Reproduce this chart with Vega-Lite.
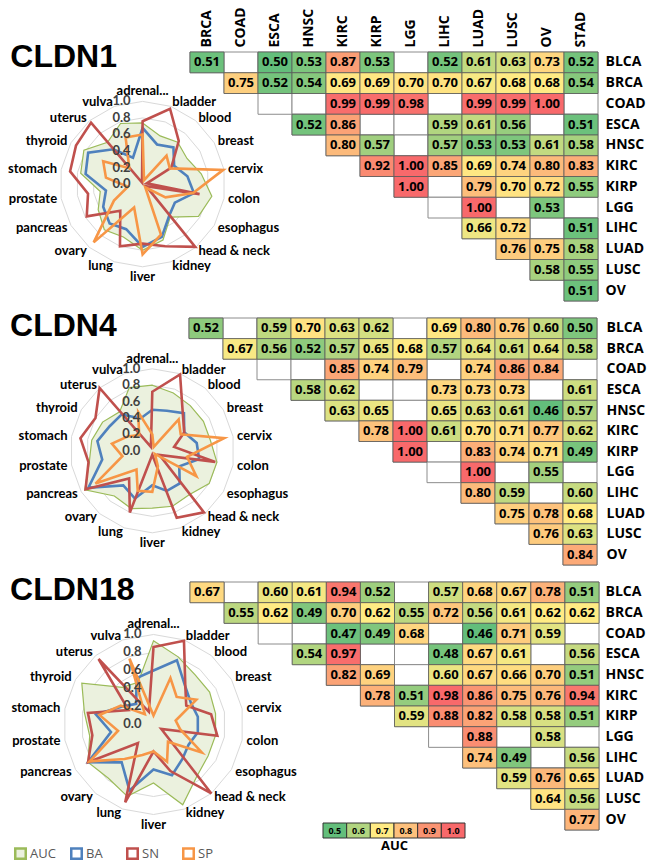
{
"$schema": "https://vega.github.io/schema/vega-lite/v6.json",
"padding": {"top": 6, "left": 0, "right": 0, "bottom": 0},
"spacing": 17,
"bounds": "flush",
"config": {"view": {"stroke": null}, "axis": {"grid": false}},
"datasets": {
"rings": [
{"ring": 0.2, "t": ["adrenal...","bladder","blood","breast","cervix","colon","esophagus","head & neck","kidney","liver","lung","ovary","pancreas","prostate","stomach","thyroid","uterus","vulva"]},
{"ring": 0.4, "t": ["adrenal...","bladder","blood","breast","cervix","colon","esophagus","head & neck","kidney","liver","lung","ovary","pancreas","prostate","stomach","thyroid","uterus","vulva"]},
{"ring": 0.6, "t": ["adrenal...","bladder","blood","breast","cervix","colon","esophagus","head & neck","kidney","liver","lung","ovary","pancreas","prostate","stomach","thyroid","uterus","vulva"]},
{"ring": 0.8, "t": ["adrenal...","bladder","blood","breast","cervix","colon","esophagus","head & neck","kidney","liver","lung","ovary","pancreas","prostate","stomach","thyroid","uterus","vulva"]},
{"ring": 1.0, "t": ["adrenal...","bladder","blood","breast","cervix","colon","esophagus","head & neck","kidney","liver","lung","ovary","pancreas","prostate","stomach","thyroid","uterus","vulva"]}
],
"genes": [{"gene": "CLDN1"}, {"gene": "CLDN4"}, {"gene": "CLDN18"}],
"radar": [
{"g":"CLDN1","t":"adrenal...","AUC":0.74,"BA":0.68,"SN":0.76,"SP":0.60},
{"g":"CLDN1","t":"bladder","AUC":0.62,"BA":0.51,"SN":0.97,"SP":0.05},
{"g":"CLDN1","t":"blood","AUC":0.66,"BA":0.58,"SN":0.68,"SP":0.45},
{"g":"CLDN1","t":"breast","AUC":0.62,"BA":0.44,"SN":0.40,"SP":0.38},
{"g":"CLDN1","t":"cervix","AUC":0.72,"BA":0.55,"SN":0.05,"SP":0.99},
{"g":"CLDN1","t":"colon","AUC":0.85,"BA":0.63,"SN":0.70,"SP":0.62},
{"g":"CLDN1","t":"esophagus","AUC":0.78,"BA":0.45,"SN":0.05,"SP":0.32},
{"g":"CLDN1","t":"head & neck","AUC":0.52,"BA":0.50,"SN":0.99,"SP":0.05},
{"g":"CLDN1","t":"kidney","AUC":0.72,"BA":0.68,"SN":0.80,"SP":0.65},
{"g":"CLDN1","t":"liver","AUC":0.80,"BA":0.76,"SN":0.72,"SP":0.85},
{"g":"CLDN1","t":"lung","AUC":0.68,"BA":0.58,"SN":0.80,"SP":0.30},
{"g":"CLDN1","t":"ovary","AUC":0.72,"BA":0.62,"SN":0.42,"SP":0.92},
{"g":"CLDN1","t":"pancreas","AUC":0.62,"BA":0.55,"SN":0.78,"SP":0.40},
{"g":"CLDN1","t":"prostate","AUC":0.52,"BA":0.45,"SN":0.67,"SP":0.18},
{"g":"CLDN1","t":"stomach","AUC":0.76,"BA":0.70,"SN":0.89,"SP":0.45},
{"g":"CLDN1","t":"thyroid","AUC":0.82,"BA":0.76,"SN":0.93,"SP":0.55},
{"g":"CLDN1","t":"uterus","AUC":0.66,"BA":0.55,"SN":0.97,"SP":0.25},
{"g":"CLDN1","t":"vulva","AUC":0.78,"BA":0.34,"SN":0.02,"SP":0.60},
{"g":"CLDN4","t":"adrenal...","AUC":0.80,"BA":0.50,"SN":0.72,"SP":0.20},
{"g":"CLDN4","t":"bladder","AUC":0.75,"BA":0.52,"SN":0.99,"SP":0.05},
{"g":"CLDN4","t":"blood","AUC":0.72,"BA":0.60,"SN":0.58,"SP":0.50},
{"g":"CLDN4","t":"breast","AUC":0.72,"BA":0.45,"SN":0.45,"SP":0.40},
{"g":"CLDN4","t":"cervix","AUC":0.72,"BA":0.55,"SN":0.27,"SP":0.89},
{"g":"CLDN4","t":"colon","AUC":0.80,"BA":0.58,"SN":0.78,"SP":0.43},
{"g":"CLDN4","t":"esophagus","AUC":0.80,"BA":0.38,"SN":0.10,"SP":0.62},
{"g":"CLDN4","t":"head & neck","AUC":0.70,"BA":0.52,"SN":0.98,"SP":0.05},
{"g":"CLDN4","t":"kidney","AUC":0.72,"BA":0.52,"SN":0.87,"SP":0.20},
{"g":"CLDN4","t":"liver","AUC":0.70,"BA":0.42,"SN":0.05,"SP":0.50},
{"g":"CLDN4","t":"lung","AUC":0.75,"BA":0.62,"SN":0.80,"SP":0.52},
{"g":"CLDN4","t":"ovary","AUC":0.72,"BA":0.55,"SN":0.44,"SP":0.30},
{"g":"CLDN4","t":"pancreas","AUC":0.95,"BA":0.90,"SN":0.94,"SP":0.80},
{"g":"CLDN4","t":"prostate","AUC":0.78,"BA":0.62,"SN":0.79,"SP":0.37},
{"g":"CLDN4","t":"stomach","AUC":0.75,"BA":0.68,"SN":0.89,"SP":0.50},
{"g":"CLDN4","t":"thyroid","AUC":0.70,"BA":0.60,"SN":0.80,"SP":0.35},
{"g":"CLDN4","t":"uterus","AUC":0.62,"BA":0.58,"SN":1.00,"SP":0.25},
{"g":"CLDN4","t":"vulva","AUC":0.82,"BA":0.42,"SN":0.05,"SP":0.50},
{"g":"CLDN18","t":"adrenal...","AUC":0.93,"BA":0.60,"SN":0.86,"SP":0.10},
{"g":"CLDN18","t":"bladder","AUC":0.80,"BA":0.76,"SN":0.99,"SP":0.55},
{"g":"CLDN18","t":"blood","AUC":0.72,"BA":0.55,"SN":0.55,"SP":0.40},
{"g":"CLDN18","t":"breast","AUC":0.72,"BA":0.48,"SN":0.42,"SP":0.55},
{"g":"CLDN18","t":"cervix","AUC":0.70,"BA":0.50,"SN":0.65,"SP":0.25},
{"g":"CLDN18","t":"colon","AUC":0.70,"BA":0.50,"SN":0.72,"SP":0.30},
{"g":"CLDN18","t":"esophagus","AUC":0.70,"BA":0.45,"SN":0.10,"SP":0.62},
{"g":"CLDN18","t":"head & neck","AUC":0.75,"BA":0.50,"SN":1.00,"SP":0.25},
{"g":"CLDN18","t":"kidney","AUC":0.95,"BA":0.60,"SN":0.55,"SP":0.44},
{"g":"CLDN18","t":"liver","AUC":0.65,"BA":0.50,"SN":0.30,"SP":0.30},
{"g":"CLDN18","t":"lung","AUC":0.85,"BA":0.78,"SN":0.92,"SP":0.36},
{"g":"CLDN18","t":"ovary","AUC":0.78,"BA":0.55,"SN":0.27,"SP":0.50},
{"g":"CLDN18","t":"pancreas","AUC":0.84,"BA":0.84,"SN":0.84,"SP":0.82},
{"g":"CLDN18","t":"prostate","AUC":0.72,"BA":0.48,"SN":0.69,"SP":0.40},
{"g":"CLDN18","t":"stomach","AUC":0.78,"BA":0.65,"SN":0.74,"SP":0.61},
{"g":"CLDN18","t":"thyroid","AUC":0.92,"BA":0.40,"SN":0.32,"SP":0.42},
{"g":"CLDN18","t":"uterus","AUC":0.54,"BA":0.30,"SN":0.95,"SP":0.15},
{"g":"CLDN18","t":"vulva","AUC":0.50,"BA":0.55,"SN":0.15,"SP":0.78}
],
"heat": [
{"g":"CLDN1","r":"BLCA","c":"BRCA","v":0.51},{"g":"CLDN1","r":"BLCA","c":"COAD","v":null},{"g":"CLDN1","r":"BLCA","c":"ESCA","v":0.50},{"g":"CLDN1","r":"BLCA","c":"HNSC","v":0.53},{"g":"CLDN1","r":"BLCA","c":"KIRC","v":0.87},{"g":"CLDN1","r":"BLCA","c":"KIRP","v":0.53},{"g":"CLDN1","r":"BLCA","c":"LGG","v":null},{"g":"CLDN1","r":"BLCA","c":"LIHC","v":0.52},{"g":"CLDN1","r":"BLCA","c":"LUAD","v":0.61},{"g":"CLDN1","r":"BLCA","c":"LUSC","v":0.63},{"g":"CLDN1","r":"BLCA","c":"OV","v":0.73},{"g":"CLDN1","r":"BLCA","c":"STAD","v":0.52},
{"g":"CLDN1","r":"BRCA","c":"COAD","v":0.75},{"g":"CLDN1","r":"BRCA","c":"ESCA","v":0.52},{"g":"CLDN1","r":"BRCA","c":"HNSC","v":0.54},{"g":"CLDN1","r":"BRCA","c":"KIRC","v":0.69},{"g":"CLDN1","r":"BRCA","c":"KIRP","v":0.69},{"g":"CLDN1","r":"BRCA","c":"LGG","v":0.70},{"g":"CLDN1","r":"BRCA","c":"LIHC","v":0.70},{"g":"CLDN1","r":"BRCA","c":"LUAD","v":0.67},{"g":"CLDN1","r":"BRCA","c":"LUSC","v":0.68},{"g":"CLDN1","r":"BRCA","c":"OV","v":0.68},{"g":"CLDN1","r":"BRCA","c":"STAD","v":0.54},
{"g":"CLDN1","r":"COAD","c":"ESCA","v":null},{"g":"CLDN1","r":"COAD","c":"HNSC","v":null},{"g":"CLDN1","r":"COAD","c":"KIRC","v":0.99},{"g":"CLDN1","r":"COAD","c":"KIRP","v":0.99},{"g":"CLDN1","r":"COAD","c":"LGG","v":0.98},{"g":"CLDN1","r":"COAD","c":"LIHC","v":null},{"g":"CLDN1","r":"COAD","c":"LUAD","v":0.99},{"g":"CLDN1","r":"COAD","c":"LUSC","v":0.99},{"g":"CLDN1","r":"COAD","c":"OV","v":1.00},{"g":"CLDN1","r":"COAD","c":"STAD","v":null},
{"g":"CLDN1","r":"ESCA","c":"HNSC","v":0.52},{"g":"CLDN1","r":"ESCA","c":"KIRC","v":0.86},{"g":"CLDN1","r":"ESCA","c":"KIRP","v":null},{"g":"CLDN1","r":"ESCA","c":"LGG","v":null},{"g":"CLDN1","r":"ESCA","c":"LIHC","v":0.59},{"g":"CLDN1","r":"ESCA","c":"LUAD","v":0.61},{"g":"CLDN1","r":"ESCA","c":"LUSC","v":0.56},{"g":"CLDN1","r":"ESCA","c":"OV","v":null},{"g":"CLDN1","r":"ESCA","c":"STAD","v":0.51},
{"g":"CLDN1","r":"HNSC","c":"KIRC","v":0.80},{"g":"CLDN1","r":"HNSC","c":"KIRP","v":0.57},{"g":"CLDN1","r":"HNSC","c":"LGG","v":null},{"g":"CLDN1","r":"HNSC","c":"LIHC","v":0.57},{"g":"CLDN1","r":"HNSC","c":"LUAD","v":0.53},{"g":"CLDN1","r":"HNSC","c":"LUSC","v":0.53},{"g":"CLDN1","r":"HNSC","c":"OV","v":0.61},{"g":"CLDN1","r":"HNSC","c":"STAD","v":0.58},
{"g":"CLDN1","r":"KIRC","c":"KIRP","v":0.92},{"g":"CLDN1","r":"KIRC","c":"LGG","v":1.00},{"g":"CLDN1","r":"KIRC","c":"LIHC","v":0.85},{"g":"CLDN1","r":"KIRC","c":"LUAD","v":0.69},{"g":"CLDN1","r":"KIRC","c":"LUSC","v":0.74},{"g":"CLDN1","r":"KIRC","c":"OV","v":0.80},{"g":"CLDN1","r":"KIRC","c":"STAD","v":0.83},
{"g":"CLDN1","r":"KIRP","c":"LGG","v":1.00},{"g":"CLDN1","r":"KIRP","c":"LIHC","v":null},{"g":"CLDN1","r":"KIRP","c":"LUAD","v":0.79},{"g":"CLDN1","r":"KIRP","c":"LUSC","v":0.70},{"g":"CLDN1","r":"KIRP","c":"OV","v":0.72},{"g":"CLDN1","r":"KIRP","c":"STAD","v":0.55},
{"g":"CLDN1","r":"LGG","c":"LIHC","v":null},{"g":"CLDN1","r":"LGG","c":"LUAD","v":1.00},{"g":"CLDN1","r":"LGG","c":"LUSC","v":null},{"g":"CLDN1","r":"LGG","c":"OV","v":0.53},{"g":"CLDN1","r":"LGG","c":"STAD","v":null},
{"g":"CLDN1","r":"LIHC","c":"LUAD","v":0.66},{"g":"CLDN1","r":"LIHC","c":"LUSC","v":0.72},{"g":"CLDN1","r":"LIHC","c":"OV","v":null},{"g":"CLDN1","r":"LIHC","c":"STAD","v":0.51},
{"g":"CLDN1","r":"LUAD","c":"LUSC","v":0.76},{"g":"CLDN1","r":"LUAD","c":"OV","v":0.75},{"g":"CLDN1","r":"LUAD","c":"STAD","v":0.58},
{"g":"CLDN1","r":"LUSC","c":"OV","v":0.58},{"g":"CLDN1","r":"LUSC","c":"STAD","v":0.55},
{"g":"CLDN1","r":"OV","c":"STAD","v":0.51},
{"g":"CLDN4","r":"BLCA","c":"BRCA","v":0.52},{"g":"CLDN4","r":"BLCA","c":"COAD","v":null},{"g":"CLDN4","r":"BLCA","c":"ESCA","v":0.59},{"g":"CLDN4","r":"BLCA","c":"HNSC","v":0.70},{"g":"CLDN4","r":"BLCA","c":"KIRC","v":0.63},{"g":"CLDN4","r":"BLCA","c":"KIRP","v":0.62},{"g":"CLDN4","r":"BLCA","c":"LGG","v":null},{"g":"CLDN4","r":"BLCA","c":"LIHC","v":0.69},{"g":"CLDN4","r":"BLCA","c":"LUAD","v":0.80},{"g":"CLDN4","r":"BLCA","c":"LUSC","v":0.76},{"g":"CLDN4","r":"BLCA","c":"OV","v":0.60},{"g":"CLDN4","r":"BLCA","c":"STAD","v":0.50},
{"g":"CLDN4","r":"BRCA","c":"COAD","v":0.67},{"g":"CLDN4","r":"BRCA","c":"ESCA","v":0.56},{"g":"CLDN4","r":"BRCA","c":"HNSC","v":0.52},{"g":"CLDN4","r":"BRCA","c":"KIRC","v":0.57},{"g":"CLDN4","r":"BRCA","c":"KIRP","v":0.65},{"g":"CLDN4","r":"BRCA","c":"LGG","v":0.68},{"g":"CLDN4","r":"BRCA","c":"LIHC","v":0.57},{"g":"CLDN4","r":"BRCA","c":"LUAD","v":0.64},{"g":"CLDN4","r":"BRCA","c":"LUSC","v":0.61},{"g":"CLDN4","r":"BRCA","c":"OV","v":0.64},{"g":"CLDN4","r":"BRCA","c":"STAD","v":0.58},
{"g":"CLDN4","r":"COAD","c":"ESCA","v":null},{"g":"CLDN4","r":"COAD","c":"HNSC","v":null},{"g":"CLDN4","r":"COAD","c":"KIRC","v":0.85},{"g":"CLDN4","r":"COAD","c":"KIRP","v":0.74},{"g":"CLDN4","r":"COAD","c":"LGG","v":0.79},{"g":"CLDN4","r":"COAD","c":"LIHC","v":null},{"g":"CLDN4","r":"COAD","c":"LUAD","v":0.74},{"g":"CLDN4","r":"COAD","c":"LUSC","v":0.86},{"g":"CLDN4","r":"COAD","c":"OV","v":0.84},{"g":"CLDN4","r":"COAD","c":"STAD","v":null},
{"g":"CLDN4","r":"ESCA","c":"HNSC","v":0.58},{"g":"CLDN4","r":"ESCA","c":"KIRC","v":0.62},{"g":"CLDN4","r":"ESCA","c":"KIRP","v":null},{"g":"CLDN4","r":"ESCA","c":"LGG","v":null},{"g":"CLDN4","r":"ESCA","c":"LIHC","v":0.73},{"g":"CLDN4","r":"ESCA","c":"LUAD","v":0.73},{"g":"CLDN4","r":"ESCA","c":"LUSC","v":0.73},{"g":"CLDN4","r":"ESCA","c":"OV","v":null},{"g":"CLDN4","r":"ESCA","c":"STAD","v":0.61},
{"g":"CLDN4","r":"HNSC","c":"KIRC","v":0.63},{"g":"CLDN4","r":"HNSC","c":"KIRP","v":0.65},{"g":"CLDN4","r":"HNSC","c":"LGG","v":null},{"g":"CLDN4","r":"HNSC","c":"LIHC","v":0.65},{"g":"CLDN4","r":"HNSC","c":"LUAD","v":0.63},{"g":"CLDN4","r":"HNSC","c":"LUSC","v":0.61},{"g":"CLDN4","r":"HNSC","c":"OV","v":0.46},{"g":"CLDN4","r":"HNSC","c":"STAD","v":0.57},
{"g":"CLDN4","r":"KIRC","c":"KIRP","v":0.78},{"g":"CLDN4","r":"KIRC","c":"LGG","v":1.00},{"g":"CLDN4","r":"KIRC","c":"LIHC","v":0.61},{"g":"CLDN4","r":"KIRC","c":"LUAD","v":0.70},{"g":"CLDN4","r":"KIRC","c":"LUSC","v":0.71},{"g":"CLDN4","r":"KIRC","c":"OV","v":0.77},{"g":"CLDN4","r":"KIRC","c":"STAD","v":0.62},
{"g":"CLDN4","r":"KIRP","c":"LGG","v":1.00},{"g":"CLDN4","r":"KIRP","c":"LIHC","v":null},{"g":"CLDN4","r":"KIRP","c":"LUAD","v":0.83},{"g":"CLDN4","r":"KIRP","c":"LUSC","v":0.74},{"g":"CLDN4","r":"KIRP","c":"OV","v":0.71},{"g":"CLDN4","r":"KIRP","c":"STAD","v":0.49},
{"g":"CLDN4","r":"LGG","c":"LIHC","v":null},{"g":"CLDN4","r":"LGG","c":"LUAD","v":1.00},{"g":"CLDN4","r":"LGG","c":"LUSC","v":null},{"g":"CLDN4","r":"LGG","c":"OV","v":0.55},{"g":"CLDN4","r":"LGG","c":"STAD","v":null},
{"g":"CLDN4","r":"LIHC","c":"LUAD","v":0.80},{"g":"CLDN4","r":"LIHC","c":"LUSC","v":0.59},{"g":"CLDN4","r":"LIHC","c":"OV","v":null},{"g":"CLDN4","r":"LIHC","c":"STAD","v":0.60},
{"g":"CLDN4","r":"LUAD","c":"LUSC","v":0.75},{"g":"CLDN4","r":"LUAD","c":"OV","v":0.78},{"g":"CLDN4","r":"LUAD","c":"STAD","v":0.68},
{"g":"CLDN4","r":"LUSC","c":"OV","v":0.76},{"g":"CLDN4","r":"LUSC","c":"STAD","v":0.63},
{"g":"CLDN4","r":"OV","c":"STAD","v":0.84},
{"g":"CLDN18","r":"BLCA","c":"BRCA","v":0.67},{"g":"CLDN18","r":"BLCA","c":"COAD","v":null},{"g":"CLDN18","r":"BLCA","c":"ESCA","v":0.60},{"g":"CLDN18","r":"BLCA","c":"HNSC","v":0.61},{"g":"CLDN18","r":"BLCA","c":"KIRC","v":0.94},{"g":"CLDN18","r":"BLCA","c":"KIRP","v":0.52},{"g":"CLDN18","r":"BLCA","c":"LGG","v":null},{"g":"CLDN18","r":"BLCA","c":"LIHC","v":0.57},{"g":"CLDN18","r":"BLCA","c":"LUAD","v":0.68},{"g":"CLDN18","r":"BLCA","c":"LUSC","v":0.67},{"g":"CLDN18","r":"BLCA","c":"OV","v":0.78},{"g":"CLDN18","r":"BLCA","c":"STAD","v":0.51},
{"g":"CLDN18","r":"BRCA","c":"COAD","v":0.55},{"g":"CLDN18","r":"BRCA","c":"ESCA","v":0.62},{"g":"CLDN18","r":"BRCA","c":"HNSC","v":0.49},{"g":"CLDN18","r":"BRCA","c":"KIRC","v":0.70},{"g":"CLDN18","r":"BRCA","c":"KIRP","v":0.62},{"g":"CLDN18","r":"BRCA","c":"LGG","v":0.55},{"g":"CLDN18","r":"BRCA","c":"LIHC","v":0.72},{"g":"CLDN18","r":"BRCA","c":"LUAD","v":0.56},{"g":"CLDN18","r":"BRCA","c":"LUSC","v":0.61},{"g":"CLDN18","r":"BRCA","c":"OV","v":0.62},{"g":"CLDN18","r":"BRCA","c":"STAD","v":0.62},
{"g":"CLDN18","r":"COAD","c":"ESCA","v":null},{"g":"CLDN18","r":"COAD","c":"HNSC","v":null},{"g":"CLDN18","r":"COAD","c":"KIRC","v":0.47},{"g":"CLDN18","r":"COAD","c":"KIRP","v":0.49},{"g":"CLDN18","r":"COAD","c":"LGG","v":0.68},{"g":"CLDN18","r":"COAD","c":"LIHC","v":null},{"g":"CLDN18","r":"COAD","c":"LUAD","v":0.46},{"g":"CLDN18","r":"COAD","c":"LUSC","v":0.71},{"g":"CLDN18","r":"COAD","c":"OV","v":0.59},{"g":"CLDN18","r":"COAD","c":"STAD","v":null},
{"g":"CLDN18","r":"ESCA","c":"HNSC","v":0.54},{"g":"CLDN18","r":"ESCA","c":"KIRC","v":0.97},{"g":"CLDN18","r":"ESCA","c":"KIRP","v":null},{"g":"CLDN18","r":"ESCA","c":"LGG","v":null},{"g":"CLDN18","r":"ESCA","c":"LIHC","v":0.48},{"g":"CLDN18","r":"ESCA","c":"LUAD","v":0.67},{"g":"CLDN18","r":"ESCA","c":"LUSC","v":0.61},{"g":"CLDN18","r":"ESCA","c":"OV","v":null},{"g":"CLDN18","r":"ESCA","c":"STAD","v":0.56},
{"g":"CLDN18","r":"HNSC","c":"KIRC","v":0.82},{"g":"CLDN18","r":"HNSC","c":"KIRP","v":0.69},{"g":"CLDN18","r":"HNSC","c":"LGG","v":null},{"g":"CLDN18","r":"HNSC","c":"LIHC","v":0.60},{"g":"CLDN18","r":"HNSC","c":"LUAD","v":0.67},{"g":"CLDN18","r":"HNSC","c":"LUSC","v":0.66},{"g":"CLDN18","r":"HNSC","c":"OV","v":0.70},{"g":"CLDN18","r":"HNSC","c":"STAD","v":0.51},
{"g":"CLDN18","r":"KIRC","c":"KIRP","v":0.78},{"g":"CLDN18","r":"KIRC","c":"LGG","v":0.51},{"g":"CLDN18","r":"KIRC","c":"LIHC","v":0.98},{"g":"CLDN18","r":"KIRC","c":"LUAD","v":0.86},{"g":"CLDN18","r":"KIRC","c":"LUSC","v":0.75},{"g":"CLDN18","r":"KIRC","c":"OV","v":0.76},{"g":"CLDN18","r":"KIRC","c":"STAD","v":0.94},
{"g":"CLDN18","r":"KIRP","c":"LGG","v":0.59},{"g":"CLDN18","r":"KIRP","c":"LIHC","v":0.88},{"g":"CLDN18","r":"KIRP","c":"LUAD","v":0.82},{"g":"CLDN18","r":"KIRP","c":"LUSC","v":0.58},{"g":"CLDN18","r":"KIRP","c":"OV","v":0.58},{"g":"CLDN18","r":"KIRP","c":"STAD","v":0.51},
{"g":"CLDN18","r":"LGG","c":"LIHC","v":null},{"g":"CLDN18","r":"LGG","c":"LUAD","v":0.88},{"g":"CLDN18","r":"LGG","c":"LUSC","v":null},{"g":"CLDN18","r":"LGG","c":"OV","v":0.58},{"g":"CLDN18","r":"LGG","c":"STAD","v":null},
{"g":"CLDN18","r":"LIHC","c":"LUAD","v":0.74},{"g":"CLDN18","r":"LIHC","c":"LUSC","v":0.49},{"g":"CLDN18","r":"LIHC","c":"OV","v":null},{"g":"CLDN18","r":"LIHC","c":"STAD","v":0.56},
{"g":"CLDN18","r":"LUAD","c":"LUSC","v":0.59},{"g":"CLDN18","r":"LUAD","c":"OV","v":0.76},{"g":"CLDN18","r":"LUAD","c":"STAD","v":0.65},
{"g":"CLDN18","r":"LUSC","c":"OV","v":0.64},{"g":"CLDN18","r":"LUSC","c":"STAD","v":0.56},
{"g":"CLDN18","r":"OV","c":"STAD","v":0.77}
]
},
"vconcat": [
{
"width": 600, "height": 249,
"resolve": {"scale": {"x": "independent", "y": "independent", "fill": "independent", "stroke": "independent"}},
"layer": [
{"layer": [
{"data": {"name": "rings"},
 "transform": [{"flatten": ["t"]}, {"window": [{"op": "row_number", "as": "idx"}], "groupby": ["ring"]}, {"calculate": "datum.ring*sin((datum.idx-1)*PI/9)", "as": "rx"}, {"calculate": "datum.ring*cos((datum.idx-1)*PI/9)", "as": "ry"}],
 "mark": {"type": "line", "interpolate": "linear-closed", "stroke": "#d9d9d9", "strokeWidth": 1},
 "encoding": {"x": {"field": "rx", "type": "quantitative", "scale": {"domain": [-1.7243, 5.5308], "nice": false, "zero": false}, "axis": null}, "y": {"field": "ry", "type": "quantitative", "scale": {"domain": [-1.4136, 1.5973], "nice": false, "zero": false}, "axis": null}, "detail": {"field": "ring"}, "order": {"field": "idx"}}},
{"data": {"name": "radar"},
 "transform": [{"filter": "datum.g === 'CLDN1'"}, {"fold": ["AUC", "BA", "SN", "SP"], "as": ["m", "val"]}, {"window": [{"op": "row_number", "as": "idx"}], "groupby": ["m"]}, {"calculate": "datum.val*sin((datum.idx-1)*PI/9)", "as": "rx"}, {"calculate": "datum.val*cos((datum.idx-1)*PI/9)", "as": "ry"}],
 "mark": {"type": "line", "interpolate": "linear-closed", "strokeJoin": "miter"},
 "encoding": {"x": {"field": "rx", "type": "quantitative", "scale": {"domain": [-1.7243, 5.5308], "nice": false, "zero": false}, "axis": null}, "y": {"field": "ry", "type": "quantitative", "scale": {"domain": [-1.4136, 1.5973], "nice": false, "zero": false}, "axis": null},
  "stroke": {"field": "m", "type": "nominal", "scale": {"domain": ["AUC", "BA", "SN", "SP"], "range": ["#9BBB59", "#4F81BD", "#C0504D", "#F79646"]}, "legend": null},
  "fill": {"field": "m", "type": "nominal", "scale": {"domain": ["AUC", "BA", "SN", "SP"], "range": ["#EBF1DE", "transparent", "transparent", "transparent"]}, "legend": null},
  "strokeWidth": {"condition": {"test": "datum.m === 'AUC'", "value": 1.2}, "value": 2.6},
  "order": {"field": "idx"}}},
{"data": {"values": [{"tk": 0}, {"tk": 0.2}, {"tk": 0.4}, {"tk": 0.6}, {"tk": 0.8}, {"tk": 1.0}]},
 "mark": {"type": "text", "align": "right", "baseline": "middle", "dx": -12, "font": "Lato", "fontWeight": "bold", "fontSize": 13, "color": "#404040"},
 "encoding": {"x": {"datum": 0, "type": "quantitative", "scale": {"domain": [-1.7243, 5.5308], "nice": false, "zero": false}, "axis": null}, "y": {"field": "tk", "type": "quantitative", "scale": {"domain": [-1.4136, 1.5973], "nice": false, "zero": false}, "axis": null}, "text": {"field": "tk", "format": ".1f"}}},
{"data": {"name": "genes"},
 "transform": [{"filter": "datum.gene === 'CLDN1'"}],
 "mark": {"type": "text", "align": "left", "baseline": "alphabetic", "font": "Liberation Sans", "fontWeight": "bold", "fontSize": 32, "color": "black"},
 "encoding": {"x": {"datum": -1.60, "type": "quantitative", "scale": {"domain": [-1.7243, 5.5308], "nice": false, "zero": false}, "axis": null}, "y": {"datum": 1.416, "type": "quantitative", "scale": {"domain": [-1.4136, 1.5973], "nice": false, "zero": false}, "axis": null}, "text": {"field": "gene"}}},
{"data": {"name": "radar"},
 "transform": [{"filter": "datum.g === 'CLDN1'"}, {"window": [{"op": "row_number", "as": "idx"}]}, {"calculate": "(datum.idx-1)*PI/9", "as": "a"}, {"calculate": "(datum.idx==1||datum.idx==10) ? 0 : 1.05*sin(datum.a)", "as": "lx"}, {"calculate": "(datum.idx==1||datum.idx==10) ? 1.12*cos(datum.a) : 1.05*cos(datum.a)", "as": "ly"}],
 "layer": [
  {"transform": [{"filter": "datum.idx>=2 && datum.idx<=9"}], "mark": {"type": "text", "align": "left", "baseline": "middle", "font": "Lato", "fontWeight": "bold", "fontSize": 13, "color": "black"}},
  {"transform": [{"filter": "datum.idx>=11"}], "mark": {"type": "text", "align": "right", "baseline": "middle", "font": "Lato", "fontWeight": "bold", "fontSize": 13, "color": "black"}},
  {"transform": [{"filter": "datum.idx==1 || datum.idx==10"}], "mark": {"type": "text", "align": "center", "baseline": "middle", "font": "Lato", "fontWeight": "bold", "fontSize": 13, "color": "black"}}
 ],
 "encoding": {"x": {"field": "lx", "type": "quantitative", "scale": {"domain": [-1.7243, 5.5308], "nice": false, "zero": false}, "axis": null}, "y": {"field": "ly", "type": "quantitative", "scale": {"domain": [-1.4136, 1.5973], "nice": false, "zero": false}, "axis": null}, "text": {"field": "t"}}}
]},
{"data": {"name": "heat"},
 "transform": [{"filter": "datum.g === 'CLDN1'"}],
 "encoding": {
  "x": {"field": "c", "type": "nominal", "scale": {"domain": ["BRCA","COAD","ESCA","HNSC","KIRC","KIRP","LGG","LIHC","LUAD","LUSC","OV","STAD"], "range": [190, 598], "paddingInner": 0, "paddingOuter": 0}, "axis": {"orient": "top", "title": null, "labelAngle": -90, "labelAlign": "left", "labelBaseline": "middle", "labelFont": "Open Sans", "labelFontWeight": "bold", "labelFontSize": 14, "labelColor": "black", "ticks": false, "domain": false, "labelPadding": 5}},
  "y": {"field": "r", "type": "nominal", "scale": {"domain": ["BLCA","BRCA","COAD","ESCA","HNSC","KIRC","KIRP","LGG","LIHC","LUAD","LUSC","OV"], "paddingInner": 0, "paddingOuter": 0}, "axis": {"orient": "right", "title": null, "labelFont": "Open Sans", "labelFontWeight": "bold", "labelFontSize": 14, "labelColor": "black", "ticks": false, "domain": false, "labelPadding": 5}}
 },
 "layer": [
  {"mark": {"type": "rect", "fill": "white", "stroke": "#8c8c8c", "strokeWidth": 1}},
  {"transform": [{"filter": "datum.v !== null"}], "mark": {"type": "rect", "stroke": "#5a5a5a", "strokeWidth": 0.8}, "encoding": {"fill": {"field": "v", "type": "quantitative", "scale": {"domain": [0.5, 0.68, 1.0], "range": ["#63BE7B", "#FFEB84", "#F8696B"], "interpolate": "rgb", "clamp": true}, "legend": null}}},
  {"transform": [{"filter": "datum.v !== null"}], "mark": {"type": "text", "font": "Open Sans", "fontWeight": "bold", "fontSize": 13, "color": "black"}, "encoding": {"text": {"field": "v", "format": ".2f"}}}
 ]}
]
},
{
"width": 600, "height": 247,
"resolve": {"scale": {"x": "independent", "y": "independent", "fill": "independent", "stroke": "independent"}},
"layer": [
{"layer": [
{"data": {"name": "rings"},
 "transform": [{"flatten": ["t"]}, {"window": [{"op": "row_number", "as": "idx"}], "groupby": ["ring"]}, {"calculate": "datum.ring*sin((datum.idx-1)*PI/9)", "as": "rx"}, {"calculate": "datum.ring*cos((datum.idx-1)*PI/9)", "as": "ry"}],
 "mark": {"type": "line", "interpolate": "linear-closed", "stroke": "#d9d9d9", "strokeWidth": 1},
 "encoding": {"x": {"field": "rx", "type": "quantitative", "scale": {"domain": [-1.8573, 5.4598], "nice": false, "zero": false}, "axis": null}, "y": {"field": "ry", "type": "quantitative", "scale": {"domain": [-1.3927, 1.6195], "nice": false, "zero": false}, "axis": null}, "detail": {"field": "ring"}, "order": {"field": "idx"}}},
{"data": {"name": "radar"},
 "transform": [{"filter": "datum.g === 'CLDN4'"}, {"fold": ["AUC", "BA", "SN", "SP"], "as": ["m", "val"]}, {"window": [{"op": "row_number", "as": "idx"}], "groupby": ["m"]}, {"calculate": "datum.val*sin((datum.idx-1)*PI/9)", "as": "rx"}, {"calculate": "datum.val*cos((datum.idx-1)*PI/9)", "as": "ry"}],
 "mark": {"type": "line", "interpolate": "linear-closed", "strokeJoin": "miter"},
 "encoding": {"x": {"field": "rx", "type": "quantitative", "scale": {"domain": [-1.8573, 5.4598], "nice": false, "zero": false}, "axis": null}, "y": {"field": "ry", "type": "quantitative", "scale": {"domain": [-1.3927, 1.6195], "nice": false, "zero": false}, "axis": null},
  "stroke": {"field": "m", "type": "nominal", "scale": {"domain": ["AUC", "BA", "SN", "SP"], "range": ["#9BBB59", "#4F81BD", "#C0504D", "#F79646"]}, "legend": null},
  "fill": {"field": "m", "type": "nominal", "scale": {"domain": ["AUC", "BA", "SN", "SP"], "range": ["#EBF1DE", "transparent", "transparent", "transparent"]}, "legend": null},
  "strokeWidth": {"condition": {"test": "datum.m === 'AUC'", "value": 1.2}, "value": 2.6},
  "order": {"field": "idx"}}},
{"data": {"values": [{"tk": 0}, {"tk": 0.2}, {"tk": 0.4}, {"tk": 0.6}, {"tk": 0.8}, {"tk": 1.0}]},
 "mark": {"type": "text", "align": "right", "baseline": "middle", "dx": -12, "font": "Lato", "fontWeight": "bold", "fontSize": 13, "color": "#404040"},
 "encoding": {"x": {"datum": 0, "type": "quantitative", "scale": {"domain": [-1.8573, 5.4598], "nice": false, "zero": false}, "axis": null}, "y": {"field": "tk", "type": "quantitative", "scale": {"domain": [-1.3927, 1.6195], "nice": false, "zero": false}, "axis": null}, "text": {"field": "tk", "format": ".1f"}}},
{"data": {"name": "genes"},
 "transform": [{"filter": "datum.gene === 'CLDN4'"}],
 "mark": {"type": "text", "align": "left", "baseline": "alphabetic", "font": "Liberation Sans", "fontWeight": "bold", "fontSize": 32, "color": "black"},
 "encoding": {"x": {"datum": -1.735, "type": "quantitative", "scale": {"domain": [-1.8573, 5.4598], "nice": false, "zero": false}, "axis": null}, "y": {"datum": 1.40, "type": "quantitative", "scale": {"domain": [-1.3927, 1.6195], "nice": false, "zero": false}, "axis": null}, "text": {"field": "gene"}}},
{"data": {"name": "radar"},
 "transform": [{"filter": "datum.g === 'CLDN4'"}, {"window": [{"op": "row_number", "as": "idx"}]}, {"calculate": "(datum.idx-1)*PI/9", "as": "a"}, {"calculate": "(datum.idx==1||datum.idx==10) ? 0 : 1.05*sin(datum.a)", "as": "lx"}, {"calculate": "(datum.idx==1||datum.idx==10) ? 1.12*cos(datum.a) : 1.05*cos(datum.a)", "as": "ly"}],
 "layer": [
  {"transform": [{"filter": "datum.idx>=2 && datum.idx<=9"}], "mark": {"type": "text", "align": "left", "baseline": "middle", "font": "Lato", "fontWeight": "bold", "fontSize": 13, "color": "black"}},
  {"transform": [{"filter": "datum.idx>=11"}], "mark": {"type": "text", "align": "right", "baseline": "middle", "font": "Lato", "fontWeight": "bold", "fontSize": 13, "color": "black"}},
  {"transform": [{"filter": "datum.idx==1 || datum.idx==10"}], "mark": {"type": "text", "align": "center", "baseline": "middle", "font": "Lato", "fontWeight": "bold", "fontSize": 13, "color": "black"}}
 ],
 "encoding": {"x": {"field": "lx", "type": "quantitative", "scale": {"domain": [-1.8573, 5.4598], "nice": false, "zero": false}, "axis": null}, "y": {"field": "ly", "type": "quantitative", "scale": {"domain": [-1.3927, 1.6195], "nice": false, "zero": false}, "axis": null}, "text": {"field": "t"}}}
]},
{"data": {"name": "heat"},
 "transform": [{"filter": "datum.g === 'CLDN4'"}],
 "encoding": {
  "x": {"field": "c", "type": "nominal", "scale": {"domain": ["BRCA","COAD","ESCA","HNSC","KIRC","KIRP","LGG","LIHC","LUAD","LUSC","OV","STAD"], "range": [189, 597], "paddingInner": 0, "paddingOuter": 0}, "axis": null},
  "y": {"field": "r", "type": "nominal", "scale": {"domain": ["BLCA","BRCA","COAD","ESCA","HNSC","KIRC","KIRP","LGG","LIHC","LUAD","LUSC","OV"], "paddingInner": 0, "paddingOuter": 0}, "axis": {"orient": "right", "title": null, "labelFont": "Open Sans", "labelFontWeight": "bold", "labelFontSize": 14, "labelColor": "black", "ticks": false, "domain": false, "labelPadding": 6}}
 },
 "layer": [
  {"mark": {"type": "rect", "fill": "white", "stroke": "#8c8c8c", "strokeWidth": 1}},
  {"transform": [{"filter": "datum.v !== null"}], "mark": {"type": "rect", "stroke": "#5a5a5a", "strokeWidth": 0.8}, "encoding": {"fill": {"field": "v", "type": "quantitative", "scale": {"domain": [0.46, 0.68, 1.0], "range": ["#63BE7B", "#FFEB84", "#F8696B"], "interpolate": "rgb", "clamp": true}, "legend": null}}},
  {"transform": [{"filter": "datum.v !== null"}], "mark": {"type": "text", "font": "Open Sans", "fontWeight": "bold", "fontSize": 13, "color": "black"}, "encoding": {"text": {"field": "v", "format": ".2f"}}}
 ]}
]
},
{
"width": 600, "height": 248,
"resolve": {"scale": {"x": "independent", "y": "independent", "fill": "independent", "stroke": "independent"}},
"layer": [
{"layer": [
{"data": {"name": "rings"},
 "transform": [{"flatten": ["t"]}, {"window": [{"op": "row_number", "as": "idx"}], "groupby": ["ring"]}, {"calculate": "datum.ring*sin((datum.idx-1)*PI/9)", "as": "rx"}, {"calculate": "datum.ring*cos((datum.idx-1)*PI/9)", "as": "ry"}],
 "mark": {"type": "line", "interpolate": "linear-closed", "stroke": "#d9d9d9", "strokeWidth": 1},
 "encoding": {"x": {"field": "rx", "type": "quantitative", "scale": {"domain": [-1.7056, 4.9611], "nice": false, "zero": false}, "axis": null}, "y": {"field": "ry", "type": "quantitative", "scale": {"domain": [-1.1722, 1.5833], "nice": false, "zero": false}, "axis": null}, "detail": {"field": "ring"}, "order": {"field": "idx"}}},
{"data": {"name": "radar"},
 "transform": [{"filter": "datum.g === 'CLDN18'"}, {"fold": ["AUC", "BA", "SN", "SP"], "as": ["m", "val"]}, {"window": [{"op": "row_number", "as": "idx"}], "groupby": ["m"]}, {"calculate": "datum.val*sin((datum.idx-1)*PI/9)", "as": "rx"}, {"calculate": "datum.val*cos((datum.idx-1)*PI/9)", "as": "ry"}],
 "mark": {"type": "line", "interpolate": "linear-closed", "strokeJoin": "miter"},
 "encoding": {"x": {"field": "rx", "type": "quantitative", "scale": {"domain": [-1.7056, 4.9611], "nice": false, "zero": false}, "axis": null}, "y": {"field": "ry", "type": "quantitative", "scale": {"domain": [-1.1722, 1.5833], "nice": false, "zero": false}, "axis": null},
  "stroke": {"field": "m", "type": "nominal", "scale": {"domain": ["AUC", "BA", "SN", "SP"], "range": ["#9BBB59", "#4F81BD", "#C0504D", "#F79646"]}, "legend": {"title": null, "orient": "none", "legendX": 14, "legendY": 265, "direction": "horizontal", "symbolType": "square", "symbolSize": 110, "symbolStrokeWidth": 2.5, "labelFont": "Open Sans", "labelFontSize": 13, "labelColor": "#595959", "gridAlign": "all", "columnPadding": 10, "labelOffset": 3}},
  "fill": {"field": "m", "type": "nominal", "scale": {"domain": ["AUC", "BA", "SN", "SP"], "range": ["#EBF1DE", "transparent", "transparent", "transparent"]}, "legend": {"title": null, "orient": "none", "legendX": 14, "legendY": 265, "direction": "horizontal", "symbolType": "square", "symbolSize": 110, "symbolStrokeWidth": 2.5, "labelFont": "Open Sans", "labelFontSize": 13, "labelColor": "#595959", "gridAlign": "all", "columnPadding": 10, "labelOffset": 3}},
  "strokeWidth": {"condition": {"test": "datum.m === 'AUC'", "value": 1.2}, "value": 2.6},
  "order": {"field": "idx"}}},
{"data": {"values": [{"tk": 0}, {"tk": 0.2}, {"tk": 0.4}, {"tk": 0.6}, {"tk": 0.8}, {"tk": 1.0}]},
 "mark": {"type": "text", "align": "right", "baseline": "middle", "dx": -12, "font": "Lato", "fontWeight": "bold", "fontSize": 13, "color": "#404040"},
 "encoding": {"x": {"datum": 0, "type": "quantitative", "scale": {"domain": [-1.7056, 4.9611], "nice": false, "zero": false}, "axis": null}, "y": {"field": "tk", "type": "quantitative", "scale": {"domain": [-1.1722, 1.5833], "nice": false, "zero": false}, "axis": null}, "text": {"field": "tk", "format": ".1f"}}},
{"data": {"name": "genes"},
 "transform": [{"filter": "datum.gene === 'CLDN18'"}],
 "mark": {"type": "text", "align": "left", "baseline": "alphabetic", "font": "Liberation Sans", "fontWeight": "bold", "fontSize": 32, "color": "black"},
 "encoding": {"x": {"datum": -1.594, "type": "quantitative", "scale": {"domain": [-1.7056, 4.9611], "nice": false, "zero": false}, "axis": null}, "y": {"datum": 1.383, "type": "quantitative", "scale": {"domain": [-1.1722, 1.5833], "nice": false, "zero": false}, "axis": null}, "text": {"field": "gene"}}},
{"data": {"name": "radar"},
 "transform": [{"filter": "datum.g === 'CLDN18'"}, {"window": [{"op": "row_number", "as": "idx"}]}, {"calculate": "(datum.idx-1)*PI/9", "as": "a"}, {"calculate": "(datum.idx==1||datum.idx==10) ? 0 : 1.05*sin(datum.a)", "as": "lx"}, {"calculate": "(datum.idx==1||datum.idx==10) ? 1.12*cos(datum.a) : 1.05*cos(datum.a)", "as": "ly"}],
 "layer": [
  {"transform": [{"filter": "datum.idx>=2 && datum.idx<=9"}], "mark": {"type": "text", "align": "left", "baseline": "middle", "font": "Lato", "fontWeight": "bold", "fontSize": 13, "color": "black"}},
  {"transform": [{"filter": "datum.idx>=11"}], "mark": {"type": "text", "align": "right", "baseline": "middle", "font": "Lato", "fontWeight": "bold", "fontSize": 13, "color": "black"}},
  {"transform": [{"filter": "datum.idx==1 || datum.idx==10"}], "mark": {"type": "text", "align": "center", "baseline": "middle", "font": "Lato", "fontWeight": "bold", "fontSize": 13, "color": "black"}}
 ],
 "encoding": {"x": {"field": "lx", "type": "quantitative", "scale": {"domain": [-1.7056, 4.9611], "nice": false, "zero": false}, "axis": null}, "y": {"field": "ly", "type": "quantitative", "scale": {"domain": [-1.1722, 1.5833], "nice": false, "zero": false}, "axis": null}, "text": {"field": "t"}}}
]},
{"data": {"name": "heat"},
 "transform": [{"filter": "datum.g === 'CLDN18'"}],
 "encoding": {
  "x": {"field": "c", "type": "nominal", "scale": {"domain": ["BRCA","COAD","ESCA","HNSC","KIRC","KIRP","LGG","LIHC","LUAD","LUSC","OV","STAD"], "range": [190, 599], "paddingInner": 0, "paddingOuter": 0}, "axis": null},
  "y": {"field": "r", "type": "nominal", "scale": {"domain": ["BLCA","BRCA","COAD","ESCA","HNSC","KIRC","KIRP","LGG","LIHC","LUAD","LUSC","OV"], "paddingInner": 0, "paddingOuter": 0}, "axis": {"orient": "right", "title": null, "labelFont": "Open Sans", "labelFontWeight": "bold", "labelFontSize": 14, "labelColor": "black", "ticks": false, "domain": false, "labelPadding": 5}}
 },
 "layer": [
  {"mark": {"type": "rect", "fill": "white", "stroke": "#8c8c8c", "strokeWidth": 1}},
  {"transform": [{"filter": "datum.v !== null"}], "mark": {"type": "rect", "stroke": "#5a5a5a", "strokeWidth": 0.8}, "encoding": {"fill": {"field": "v", "type": "quantitative", "scale": {"domain": [0.46, 0.62, 0.98], "range": ["#63BE7B", "#FFEB84", "#F8696B"], "interpolate": "rgb", "clamp": true}, "legend": null}}},
  {"transform": [{"filter": "datum.v !== null"}], "mark": {"type": "text", "font": "Open Sans", "fontWeight": "bold", "fontSize": 13, "color": "black"}, "encoding": {"text": {"field": "v", "format": ".2f"}}}
 ]},
{"data": {"values": [{"lab": "0.5", "v": 0.5}, {"lab": "0.6", "v": 0.6}, {"lab": "0.7", "v": 0.7}, {"lab": "0.8", "v": 0.8}, {"lab": "0.9", "v": 0.9}, {"lab": "1.0", "v": 1.0}]},
 "encoding": {
  "x": {"field": "lab", "type": "nominal", "scale": {"domain": ["0.5", "0.6", "0.7", "0.8", "0.9", "1.0"], "range": [323, 465], "paddingInner": 0, "paddingOuter": 0}, "axis": {"orient": "bottom", "title": "AUC", "labels": false, "ticks": false, "domain": false, "titleFont": "Open Sans", "titleFontWeight": "bold", "titleFontSize": 13, "titleColor": "black", "titlePadding": 9}},
  "y": {"datum": "k", "type": "nominal", "scale": {"domain": ["k"], "range": [241, 256], "paddingInner": 0, "paddingOuter": 0}, "axis": null}
 },
 "layer": [
  {"mark": {"type": "rect", "stroke": "#333333", "strokeWidth": 1}, "encoding": {"fill": {"field": "v", "type": "quantitative", "scale": {"domain": [0.5, 0.7, 1.0], "range": ["#63BE7B", "#FFEB84", "#F8696B"], "interpolate": "rgb"}, "legend": null}}},
  {"mark": {"type": "text", "font": "Open Sans", "fontWeight": "bold", "fontSize": 9, "color": "black"}, "encoding": {"text": {"field": "lab"}}}
 ]}
]
}
]
}
